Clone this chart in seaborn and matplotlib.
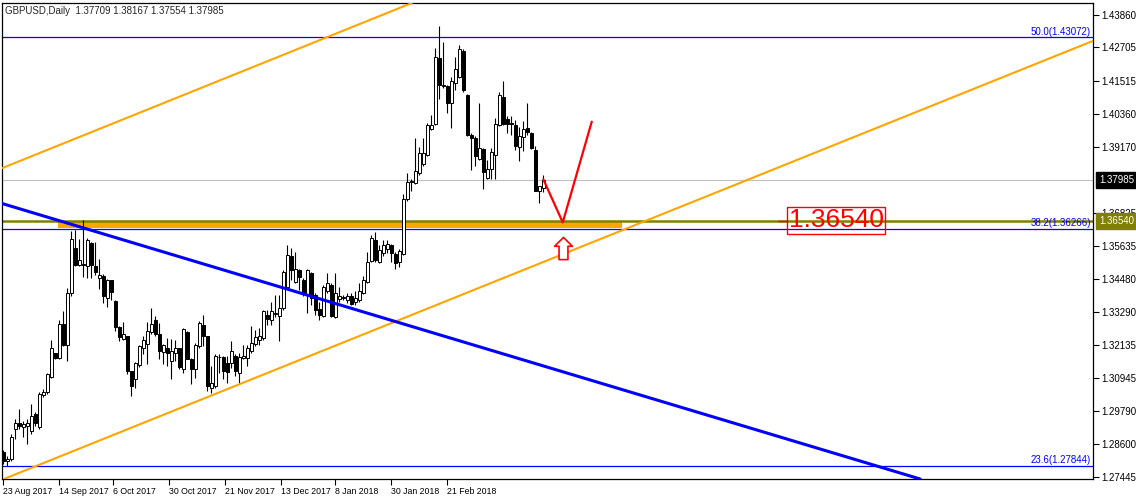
"""
GBPUSD daily chart with channel, trend line, Fibonacci levels and support zone.
"""
import numpy as np
import pandas as pd
import seaborn as sns
import matplotlib.pyplot as plt
import matplotlib.transforms as mtransforms
from matplotlib.path import Path

# 1. Data (one bar per trading day)
symbol = 'GBPUSD,Daily'
opens = [1.2832, 1.2803, 1.2809, 1.2915, 1.2938, 1.2921, 1.2926, 1.2909, 1.2968, 1.2921,
         1.3036, 1.3045, 1.3101, 1.3184, 1.3166, 1.3287, 1.3213, 1.3399, 1.3558, 1.3499,
         1.3501, 1.3495, 1.3576, 1.3493, 1.3452, 1.3460, 1.3381, 1.3443, 1.3371, 1.3277,
         1.3236, 1.3245, 1.3121, 1.3094, 1.3143, 1.3204, 1.3218, 1.3259, 1.3301, 1.3253,
         1.3189, 1.3202, 1.3157, 1.3186, 1.3202, 1.3130, 1.3261, 1.3165, 1.3130, 1.3210,
         1.3286, 1.3244, 1.3062, 1.3067, 1.3170, 1.3170, 1.3150, 1.3150, 1.3174, 1.3115,
         1.3167, 1.3168, 1.3191, 1.3218, 1.3233, 1.3238, 1.3321, 1.3301, 1.3323, 1.3315,
         1.3345, 1.3419, 1.3528, 1.3439, 1.3480, 1.3445, 1.3392, 1.3471, 1.3392, 1.3341,
         1.3315, 1.3404, 1.3427, 1.3313, 1.3377, 1.3381, 1.3374, 1.3386, 1.3368, 1.3372,
         1.3400, 1.3439, 1.3513, 1.3587, 1.3510, 1.3542, 1.3555, 1.3569, 1.3537, 1.3507,
         1.3536, 1.3731, 1.3793, 1.3790, 1.3825, 1.3855, 1.3890, 1.3981, 1.4000, 1.4232,
         1.4132, 1.4134, 1.4073, 1.4144, 1.4167, 1.4258, 1.4103, 1.3960, 1.3949, 1.3875,
         1.3910, 1.3807, 1.3839, 1.3887, 1.3996, 1.4094, 1.4016, 1.4001, 1.3996, 1.3917,
         1.3953, 1.3984, 1.3967, 1.3905, 1.3760, 1.37709]
highs = [1.2842, 1.2820, 1.2897, 1.2950, 1.2985, 1.2944, 1.2950, 1.3003, 1.2974, 1.3045,
         1.3056, 1.3115, 1.3230, 1.3186, 1.3304, 1.3336, 1.3416, 1.3620, 1.3623, 1.3590,
         1.3656, 1.3593, 1.3579, 1.3578, 1.3519, 1.3467, 1.3448, 1.3446, 1.3375, 1.3281,
         1.3295, 1.3245, 1.3121, 1.3152, 1.3214, 1.3245, 1.3295, 1.3344, 1.3316, 1.3292,
         1.3216, 1.3237, 1.3236, 1.3233, 1.3204, 1.3275, 1.3263, 1.3169, 1.3222, 1.3298,
         1.3321, 1.3247, 1.3138, 1.3180, 1.3183, 1.3174, 1.3176, 1.3227, 1.3180, 1.3185,
         1.3215, 1.3215, 1.3280, 1.3268, 1.3274, 1.3339, 1.3339, 1.3368, 1.3392, 1.3392,
         1.3480, 1.3569, 1.3557, 1.3545, 1.3483, 1.3451, 1.3483, 1.3474, 1.3398, 1.3368,
         1.3427, 1.3469, 1.3433, 1.3469, 1.3421, 1.3392, 1.3398, 1.3400, 1.3404, 1.3433,
         1.3457, 1.3545, 1.3604, 1.3616, 1.3569, 1.3587, 1.3587, 1.3572, 1.3545, 1.3554,
         1.3749, 1.3825, 1.3804, 1.3949, 1.3917, 1.3949, 1.4002, 1.4032, 1.4268, 1.4347,
         1.4291, 1.4138, 1.4167, 1.4238, 1.4280, 1.4264, 1.4106, 1.3967, 1.3955, 1.4073,
         1.3914, 1.3872, 1.3914, 1.4020, 1.4111, 1.4150, 1.4026, 1.4026, 1.4014, 1.3988,
         1.4008, 1.4073, 1.3969, 1.3920, 1.3780, 1.38167]
lows = [1.2791, 1.2785, 1.2803, 1.2879, 1.2915, 1.2885, 1.2862, 1.2897, 1.2926, 1.2915,
        1.3027, 1.3039, 1.3098, 1.3163, 1.3163, 1.3210, 1.3157, 1.3387, 1.3493, 1.3493,
        1.3455, 1.3452, 1.3452, 1.3463, 1.3413, 1.3361, 1.3349, 1.3375, 1.3263, 1.3228,
        1.3233, 1.3112, 1.3033, 1.3062, 1.3135, 1.3180, 1.3145, 1.3251, 1.3245, 1.3163,
        1.3145, 1.3139, 1.3094, 1.3157, 1.3127, 1.3115, 1.3163, 1.3074, 1.3098, 1.3204,
        1.3209, 1.3050, 1.3044, 1.3062, 1.3115, 1.3091, 1.3079, 1.3132, 1.3103, 1.3079,
        1.3162, 1.3138, 1.3185, 1.3209, 1.3215, 1.3233, 1.3286, 1.3286, 1.3313, 1.3227,
        1.3339, 1.3415, 1.3445, 1.3433, 1.3409, 1.3386, 1.3327, 1.3357, 1.3321, 1.3303,
        1.3313, 1.3398, 1.3313, 1.3309, 1.3368, 1.3372, 1.3362, 1.3357, 1.3357, 1.3368,
        1.3395, 1.3433, 1.3510, 1.3510, 1.3504, 1.3528, 1.3539, 1.3510, 1.3483, 1.3489,
        1.3533, 1.3725, 1.3760, 1.3787, 1.3819, 1.3849, 1.3884, 1.3979, 1.3996, 1.4087,
        1.4126, 1.4038, 1.3984, 1.4120, 1.4161, 1.4111, 1.3955, 1.3837, 1.3849, 1.3872,
        1.3769, 1.3802, 1.3802, 1.3804, 1.3993, 1.3996, 1.3967, 1.3961, 1.3908, 1.3866,
        1.3902, 1.3961, 1.3910, 1.3760, 1.3717, 1.37554]
closes = [1.2803, 1.2809, 1.2885, 1.2938, 1.2926, 1.2932, 1.2936, 1.2960, 1.2936, 1.3039,
          1.3048, 1.3110, 1.3202, 1.3166, 1.3287, 1.3213, 1.3399, 1.3590, 1.3499, 1.3517,
          1.3498, 1.3587, 1.3499, 1.3472, 1.3463, 1.3387, 1.3446, 1.3401, 1.3277, 1.3243,
          1.3251, 1.3121, 1.3068, 1.3148, 1.3210, 1.3230, 1.3265, 1.3289, 1.3251, 1.3192,
          1.3212, 1.3186, 1.3192, 1.3204, 1.3135, 1.3269, 1.3165, 1.3127, 1.3212, 1.3292,
          1.3247, 1.3067, 1.3079, 1.3176, 1.3172, 1.3121, 1.3117, 1.3191, 1.3121, 1.3170,
          1.3176, 1.3203, 1.3221, 1.3242, 1.3244, 1.3333, 1.3306, 1.3335, 1.3326, 1.3345,
          1.3474, 1.3534, 1.3480, 1.3483, 1.3454, 1.3398, 1.3480, 1.3380, 1.3339, 1.3321,
          1.3419, 1.3433, 1.3317, 1.3398, 1.3388, 1.3384, 1.3388, 1.3360, 1.3380, 1.3404,
          1.3445, 1.3510, 1.3592, 1.3516, 1.3551, 1.3569, 1.3572, 1.3539, 1.3506, 1.3548,
          1.3733, 1.3792, 1.3797, 1.3831, 1.3896, 1.3896, 1.3996, 1.3996, 1.4238, 1.4138,
          1.4138, 1.4075, 1.4150, 1.4193, 1.4264, 1.4118, 1.3961, 1.3949, 1.3884, 1.3914,
          1.3828, 1.3839, 1.3898, 1.4000, 1.4103, 1.4000, 1.4000, 1.3999, 1.3920, 1.3957,
          1.3981, 1.3969, 1.3914, 1.3760, 1.3778, 1.37985]

price_ticks = [1.43860, 1.42705, 1.41515, 1.40360, 1.39170, 1.36825, 1.35635,
               1.34480, 1.33290, 1.32135, 1.30945, 1.29790, 1.28600, 1.27445]
date_labels = ['23 Aug 2017', '14 Sep 2017', '6 Oct 2017', '30 Oct 2017', '21 Nov 2017',
               '13 Dec 2017', '8 Jan 2018', '30 Jan 2018', '21 Feb 2018']
date_bars = [0, 14, 27.5, 41.5, 55.5, 69.5, 83, 97, 111]

fib_names = ['50.0', '38.2', '23.6']
fib_levels = [1.43072, 1.36266, 1.27844]
support_level = 1.36540
zone_bars = [13.75, 154.7]
zone_prices = [1.3628, 1.3654]

# trend objects: (bar, price) anchor pairs
upper_channel = [(-0.3, 1.3842), (102.2, 1.4429)]
lower_channel = [(49.2, 1.3018), (272.4, 1.4294)]
blue_trend = [(49.2, 1.3505), (226.7, 1.2748)]
zigzag_bars = [135, 139.85, 147.1]
zigzag_prices = [1.3802, 1.3649, 1.4007]
arrow_bar, arrow_price = 139.9, 1.3558
label_bar, label_price = 208.2, 1.3656

# 2. Setup
sns.set_style('white', {'axes.edgecolor': 'black'})
plt.rcParams['font.family'] = ['Liberation Sans', 'DejaVu Sans']

df = pd.DataFrame({'open': opens, 'high': highs, 'low': lows, 'close': closes})
df['bar'] = np.arange(len(df))
df['bull'] = df['close'] >= df['open']

fig = plt.figure(figsize=(11.36, 5), dpi=100)
ax = fig.add_axes([2 / 1136, 21 / 500, 1091 / 1136, 476 / 500])
ax.set_xlim(-0.33, 272.4)
ax.set_ylim(1.27374, 1.44286)

# 3. Background objects
ax.fill_between(zone_bars, zone_prices[0], zone_prices[1], color='#FFA500', lw=0, zorder=1)
ax.axhline(closes[-1], color='#C0C0C0', lw=0.8, zorder=1.5)
for lvl in fib_levels:
    ax.axhline(lvl, color='#0000FF', lw=0.9, zorder=2)
ax.axhline(support_level, color='#808000', lw=1.8, zorder=2)

# 4. Candles
ax.vlines(df['bar'], df['low'], df['high'], color='black', lw=0.8, zorder=3)
body_low = df[['open', 'close']].min(axis=1)
body_h = (df['close'] - df['open']).abs().clip(lower=0.00004)
ax.bar(df['bar'], body_h, bottom=body_low, width=0.72,
       color=np.where(df['bull'], 'white', 'black'), edgecolor='black', lw=0.7, zorder=4)

# 5. Trend lines
ax.axline(*upper_channel, color='#FFA500', lw=1.5, zorder=5)
ax.axline(*lower_channel, color='#FFA500', lw=1.5, zorder=5)
ax.axline(*blue_trend, color='#0000FF', lw=2.2, zorder=5)

sns.lineplot(x=zigzag_bars, y=zigzag_prices, sort=False, color='red', lw=1.6, ax=ax, zorder=6)

arrow = Path([(0, 1), (0.8, 0.2), (0.4, 0.2), (0.4, -1), (-0.4, -1), (-0.4, 0.2),
              (-0.8, 0.2), (0, 1)], closed=True)
ax.plot(arrow_bar, arrow_price, marker=arrow, ms=16, mfc='white', mec='red', mew=1.2,
        ls='none', zorder=7)

ax.text(label_bar, label_price, f'{support_level:.5f}', fontsize=19, color='red',
        ha='center', va='center', zorder=8,
        bbox=dict(boxstyle='square,pad=0.06', fc='none', ec='red', lw=1))
ax.plot([label_bar - 14.6, label_bar - 12.4], [support_level, support_level],
        color='red', lw=1, zorder=8)

# 6. Labels on the right edge
blend = mtransforms.blended_transform_factory(ax.transAxes, ax.transData)
for name, lvl in zip(fib_names, fib_levels):
    ax.text(0.998, lvl + 0.0002, f'{name}({lvl:.5f})', transform=blend, ha='right',
            va='bottom', color='#0000FF', fontsize=7, zorder=8)

ax.yaxis.tick_right()
ax.set_yticks(price_ticks, [f'{v:.5f}' for v in price_ticks])
ax.set_xticks(date_bars, date_labels, ha='left')
ax.tick_params(axis='y', right=True, direction='out', length=4, width=0.8,
               labelsize=7, pad=2, colors='black')
ax.tick_params(axis='x', bottom=True, direction='out', length=4, width=0.8,
               labelsize=6.3, pad=2, colors='black')

ax.text(1.0055, closes[-1], f'{closes[-1]:.5f}', transform=blend, ha='left', va='center',
        color='white', fontsize=7, clip_on=False, zorder=9,
        bbox=dict(boxstyle='square,pad=0.3', fc='black', ec='black'))
ax.text(1.0055, support_level, f'{support_level:.5f}', transform=blend, ha='left',
        va='center', color='white', fontsize=7, clip_on=False, zorder=9,
        bbox=dict(boxstyle='square,pad=0.3', fc='#808000', ec='#808000'))

for s in ax.spines.values():
    s.set_color('black')
    s.set_linewidth(0.9)

o, h, l, c = opens[-1], highs[-1], lows[-1], closes[-1]
fig.text(5 / 1136, 1 - 11 / 500, f'{symbol}  {o:.5f} {h:.5f} {l:.5f} {c:.5f}',
         fontsize=7, va='center', ha='left')

fig.savefig('out.png', dpi=100)
